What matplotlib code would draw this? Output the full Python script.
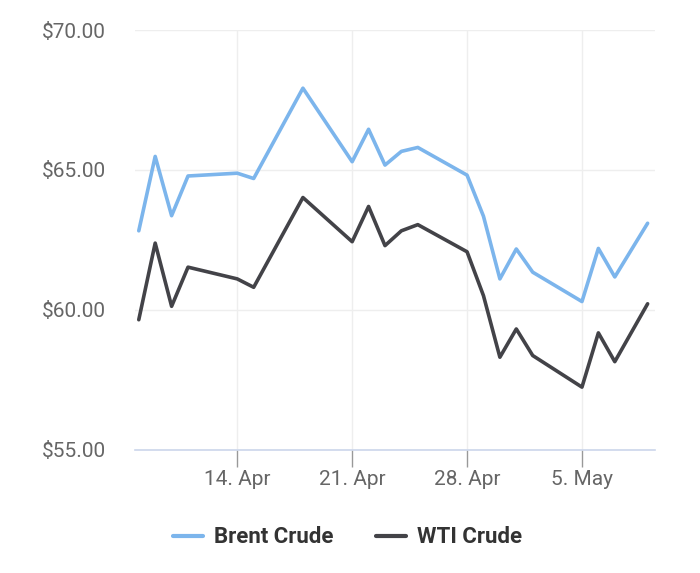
import matplotlib
matplotlib.use("Agg")
import matplotlib.pyplot as plt
import matplotlib.dates as mdates
import numpy as np
import pandas as pd

# daily closing prices
dates = ["2025-04-08", "2025-04-09", "2025-04-10", "2025-04-11", "2025-04-14",
         "2025-04-15", "2025-04-18", "2025-04-21", "2025-04-22", "2025-04-23",
         "2025-04-24", "2025-04-25", "2025-04-28", "2025-04-29", "2025-04-30",
         "2025-05-01", "2025-05-02", "2025-05-05", "2025-05-06", "2025-05-07",
         "2025-05-09"]
brent = [62.82, 65.48, 63.36, 64.78, 64.88, 64.69, 67.92, 65.29, 66.45, 65.17,
         65.66, 65.80, 64.81, 63.34, 61.10, 62.17, 61.34, 60.29, 62.19, 61.17,
         63.09]
wti = [59.64, 62.38, 60.12, 61.52, 61.10, 60.80, 64.01, 62.43, 63.69, 62.29,
       62.82, 63.04, 62.07, 60.50, 58.30, 59.31, 58.36, 57.23, 59.17, 58.14,
       60.21]
series_names = ["Brent Crude", "WTI Crude"]
y_ticks = [55, 60, 65, 70]
x_ticks = ["2025-04-14", "2025-04-21", "2025-04-28", "2025-05-05"]

W, H = 700, 573
plt.rcParams['font.family'] = ['Roboto', 'DejaVu Sans']

fig = plt.figure(figsize=(W / 100, H / 100), dpi=100)
ax = fig.add_axes([135 / W, (H - 449.5) / H, (655 - 135) / W, (449.5 - 30) / H])

x = pd.to_datetime(dates)
ax.plot(x, brent, color="#7cb5ec", lw=2.6, solid_joinstyle="round",
        solid_capstyle="round", label=series_names[0], zorder=3)
ax.plot(x, wti, color="#434348", lw=2.6, solid_joinstyle="round",
        solid_capstyle="round", label=series_names[1], zorder=3)

ref = pd.Timestamp("2025-04-14")
ax.set_xlim(mdates.date2num(ref - pd.Timedelta(days=6.23)),
            mdates.date2num(ref + pd.Timedelta(days=25.45)))
ax.set_ylim(55, 70)

ax.set_yticks(y_ticks)
ax.set_yticklabels([f"${v:.2f}" for v in y_ticks])
ax.set_xticks(pd.to_datetime(x_ticks))
ax.xaxis.set_major_formatter(mdates.DateFormatter("%-d. %b"))

for s in ["top", "right", "left"]:
    ax.spines[s].set_visible(False)
ax.spines["bottom"].set_color("#ccd6eb")
ax.spines["bottom"].set_linewidth(1.2)

ax.grid(True, color="#eeeeee", lw=1.0, zorder=0)
ax.set_axisbelow(True)

ax.tick_params(axis="y", length=0, pad=21, labelsize=15, labelcolor="#666666")
ax.tick_params(axis="x", length=12, width=1.0, color="#999999", pad=3,
               labelsize=15, labelcolor="#666666")

leg = fig.legend(loc="center", bbox_to_anchor=(0.497, (H - 537.3) / H), ncol=2,
                 frameon=False, handlelength=1.35, handletextpad=0.5,
                 columnspacing=1.9, prop={"weight": "bold", "size": 16})
for t in leg.get_texts():
    t.set_color("#333333")
for h in leg.get_lines():
    h.set_linewidth(3)

fig.savefig("out.png", dpi=100)
